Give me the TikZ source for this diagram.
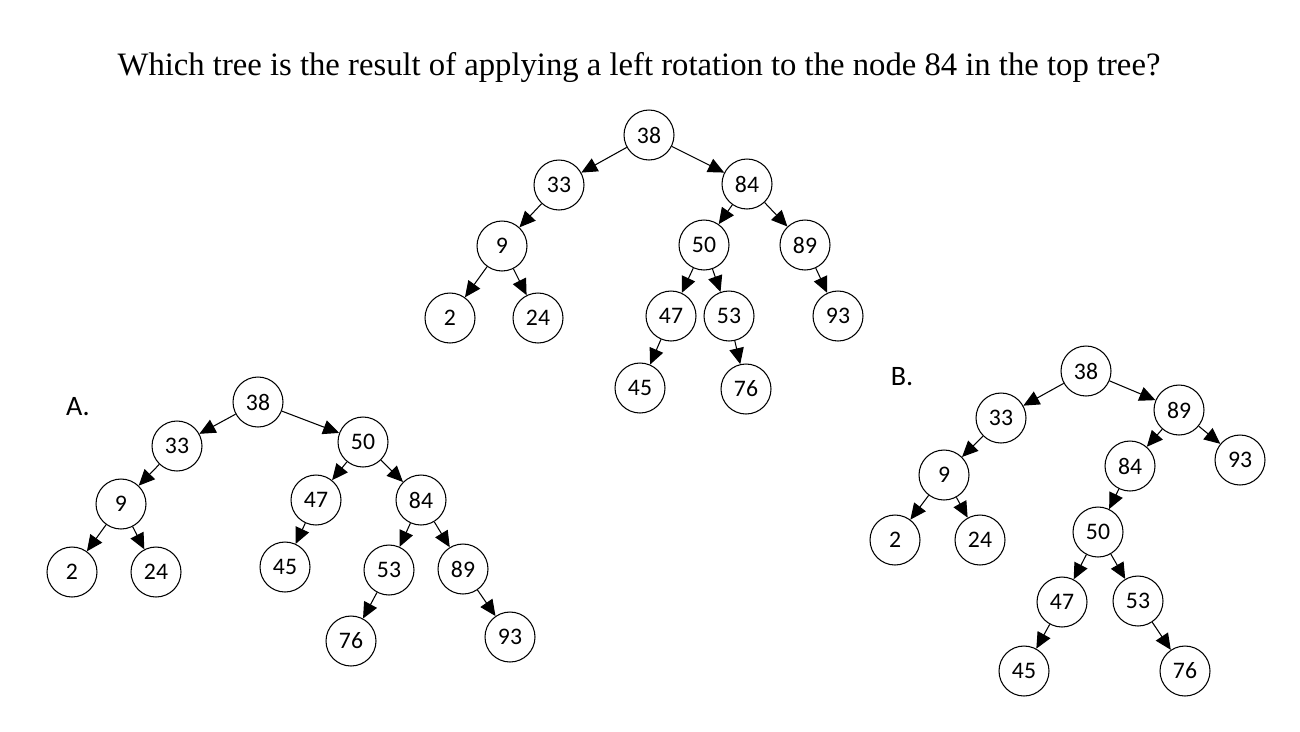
\documentclass[tikz,border=0pt]{standalone}
\usepackage{fontspec}
\setmainfont{Liberation Serif}
\newfontfamily\nodefont{Carlito}
\usetikzlibrary{arrows.meta}
\begin{document}
\begin{tikzpicture}[x=0.02cm,y=-0.02cm,
  tn/.style={circle,draw,line width=0.6pt,minimum size=1.0cm,inner sep=0pt,font=\nodefont\fontsize{13.5}{15}\selectfont},
  ed/.style={line width=0.6pt,-{Triangle[length=0.32cm,width=0.29cm]}},
  lab/.style={font=\nodefont\fontsize{16}{18}\selectfont}]
\useasboundingbox (0,0) rectangle (1300,731);
\node (title) at (639,68) {\fontsize{18.6}{22}\selectfont Which tree is the result of applying a left rotation to the node 84 in the top tree?};
% top tree
\node[tn] (t38) at (649,135) {38};
\node[tn] (t33) at (559,185) {33};
\node[tn] (t84) at (747,184) {84};
\node[tn] (t9) at (502,246) {9};
\node[tn] (t50) at (704,245) {50};
\node[tn] (t89) at (805,245) {89};
\node[tn] (t2) at (450,318) {2};
\node[tn] (t24) at (538,318) {24};
\node[tn] (t47) at (671,316) {47};
\node[tn] (t53) at (729,316) {53};
\node[tn] (t93) at (838,316) {93};
\node[tn] (t45) at (640,388) {45};
\node[tn] (t76) at (746,389) {76};
\draw[ed] (t38) -- (t33);
\draw[ed] (t38) -- (t84);
\draw[ed] (t33) -- (t9);
\draw[ed] (t9) -- (t2);
\draw[ed] (t9) -- (t24);
\draw[ed] (t84) -- (t50);
\draw[ed] (t84) -- (t89);
\draw[ed] (t50) -- (t47);
\draw[ed] (t50) -- (t53);
\draw[ed] (t89) -- (t93);
\draw[ed] (t47) -- (t45);
\draw[ed] (t53) -- (t76);
% tree A
\node[lab] (la) at (78,407) {A.};
\node[tn] (a38) at (258,402) {38};
\node[tn] (a33) at (177,446) {33};
\node[tn] (a50) at (363,442) {50};
\node[tn] (a9) at (121,504) {9};
\node[tn] (a47) at (316,500) {47};
\node[tn] (a84) at (421,500) {84};
\node[tn] (a2) at (72,572) {2};
\node[tn] (a24) at (156,572) {24};
\node[tn] (a45) at (285,567) {45};
\node[tn] (a53) at (389,570) {53};
\node[tn] (a89) at (463,569) {89};
\node[tn] (a76) at (351,641) {76};
\node[tn] (a93) at (510,637) {93};
\draw[ed] (a38) -- (a33);
\draw[ed] (a38) -- (a50);
\draw[ed] (a33) -- (a9);
\draw[ed] (a9) -- (a2);
\draw[ed] (a9) -- (a24);
\draw[ed] (a50) -- (a47);
\draw[ed] (a50) -- (a84);
\draw[ed] (a47) -- (a45);
\draw[ed] (a84) -- (a53);
\draw[ed] (a84) -- (a89);
\draw[ed] (a53) -- (a76);
\draw[ed] (a89) -- (a93);
% tree B
\node[lab] (lb) at (902,377) {B.};
\node[tn] (b38) at (1086,371) {38};
\node[tn] (b33) at (1001,418) {33};
\node[tn] (b89) at (1179,410) {89};
\node[tn] (b9) at (944,475) {9};
\node[tn] (b84) at (1130,466) {84};
\node[tn] (b93) at (1240,460) {93};
\node[tn] (b2) at (895,540) {2};
\node[tn] (b24) at (980,540) {24};
\node[tn] (b50) at (1098,532) {50};
\node[tn] (b47) at (1062,602) {47};
\node[tn] (b53) at (1138,601) {53};
\node[tn] (b45) at (1024,671) {45};
\node[tn] (b76) at (1185,671) {76};
\draw[ed] (b38) -- (b33);
\draw[ed] (b38) -- (b89);
\draw[ed] (b33) -- (b9);
\draw[ed] (b9) -- (b2);
\draw[ed] (b9) -- (b24);
\draw[ed] (b89) -- (b84);
\draw[ed] (b89) -- (b93);
\draw[ed] (b84) -- (b50);
\draw[ed] (b50) -- (b47);
\draw[ed] (b50) -- (b53);
\draw[ed] (b47) -- (b45);
\draw[ed] (b53) -- (b76);
\end{tikzpicture}
\end{document}
